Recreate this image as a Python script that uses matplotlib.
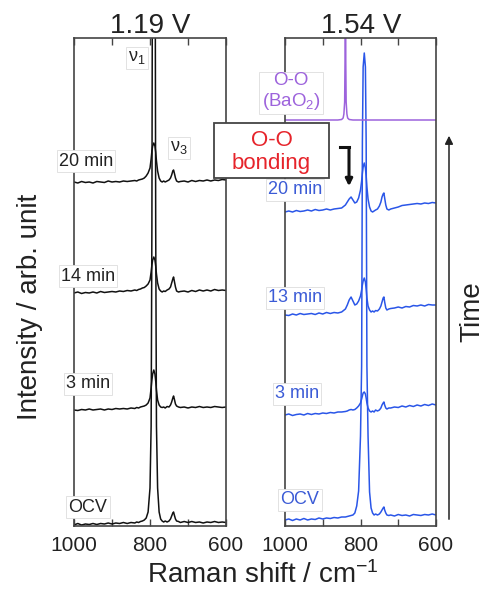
import matplotlib
matplotlib.use('Agg')
import matplotlib.pyplot as plt
from matplotlib.patches import Rectangle, FancyArrowPatch
from matplotlib.lines import Line2D
import numpy as np

plt.rcParams['font.family'] = ['Liberation Sans', 'DejaVu Sans']
plt.rcParams['mathtext.fontset'] = 'custom'
plt.rcParams['mathtext.rm'] = 'Liberation Sans'
plt.rcParams['mathtext.it'] = 'Liberation Sans:italic'
plt.rcParams['mathtext.bf'] = 'Liberation Sans:bold'

# ---------------- data ----------------
# Raman shift grid (cm-1)
shift = ([1000, 990, 980, 970, 960, 950, 940, 930, 920, 910, 900, 890, 880, 870, 860, 850]
         + [840, 835, 830, 825, 820, 815, 810, 805, 800]
         + [797, 795, 793, 790, 787, 785, 783, 780]
         + [776, 772, 768, 764, 760, 755, 750]
         + [746, 743, 740, 738, 736, 733, 730, 725]
         + [720, 710, 700, 690, 680, 670, 660, 650, 640, 630, 620, 610, 600])

# 1.19 V spectra (intensity above own offset, arb. unit)
left_labels = ["OCV", "3 min", "14 min", "20 min"]
left_offsets = [0, 114, 231, 342]
left_ocv = ([1, 2.5, 1, 2, 1.5, 2.5, 1.5, 2.5, 2, 3, 2, 3, 2.5, 3.5, 2.5, 3.5]
            + [3, 4, 3.5, 4.5, 5, 6, 8, 14, 38]
            + [100, 300, 700, 800, 700, 300, 100, 38]
            + [14, 7, 5, 4, 5, 4, 5]
            + [7, 10, 13, 14, 11, 7, 5, 4.5]
            + [3.5, 4.5, 3.5, 4.5, 3.5, 4, 3, 4, 3.5, 4.5, 3.5, 4, 3.5])
left_3min = ([2, 1.5, 2.5, 2, 3, 2, 2.5, 3, 2, 3, 2.5, 3.5, 3, 3.5, 3, 4]
             + [3.5, 4.5, 4, 5, 5.5, 6, 7, 9, 14]
             + [24, 32, 38, 42, 38, 31, 22, 12]
             + [7, 5, 4.5, 5, 4, 5.5, 5]
             + [7, 10, 14, 16, 13, 8, 6, 5]
             + [4.5, 5, 4, 5, 4.5, 5.5, 4.5, 5, 4.5, 5.5, 5, 4.5, 5])
left_14min = ([2, 3, 1.5, 2.5, 2, 3, 2, 3.5, 2.5, 3, 3.5, 3, 4, 3.5, 4.5, 4]
              + [5, 4.5, 5.5, 6, 7, 7.5, 9, 11, 15]
              + [23, 30, 35, 38, 35, 29, 21, 12]
              + [6, 4, 3, 4, 3.5, 5, 6]
              + [8, 12, 16, 18, 14, 8, 4, 3]
              + [3.5, 4, 3, 4.5, 3.5, 5, 4, 5, 4, 5.5, 4.5, 5, 4.5])
left_20min = ([2, 1, 2.5, 1.5, 2, 1, 2.5, 2, 1.5, 3, 2, 2.5, 2, 3, 2.5, 3]
              + [3.5, 3, 4, 4.5, 5, 6, 8, 11, 16]
              + [25, 33, 38, 41, 38, 32, 23, 13]
              + [6, 3, 2, 3, 2, 3, 4]
              + [6, 9, 13, 14, 11, 6, 3, 2]
              + [2.5, 3, 2, 3.5, 2.5, 3.5, 3, 4, 3, 4, 3.5, 4.5, 4])

# 1.54 V spectra
right_labels = ["OCV", "3 min", "13 min", "20 min"]
right_offsets = [4, 109, 209, 312]
right_ocv = ([2, 3, 1.5, 3, 2, 3.5, 2, 3, 2.5, 4, 3, 4, 3.5, 4.5, 4, 5]
             + [5, 5.5, 6, 6.5, 7, 9, 16, 31, 86]
             + [156, 380, 455, 469, 455, 380, 156, 86]
             + [30, 14, 9, 7, 8, 7, 8]
             + [10, 12, 14, 15, 12, 9, 7, 6.5]
             + [7, 6, 7.5, 6.5, 7, 6, 7.5, 7, 6.5, 7.5, 7, 8, 7])
right_3min = ([2, 3, 1.5, 2.5, 3, 2, 3.5, 2.5, 3.5, 3, 4, 3.5, 4.5, 4, 5, 5]
              + [5.5, 6, 7, 7.5, 7, 7.5, 9, 11, 14]
              + [18, 21, 24, 25, 23, 19, 14, 9]
              + [6, 5, 6, 5, 7, 6, 7]
              + [9, 12, 14, 15, 12, 9, 8, 9]
              + [9, 10, 9.5, 11, 10, 11.5, 10.5, 12, 11, 12.5, 11.5, 13, 12])
right_13min = ([2, 1.5, 3, 2, 3.5, 2.5, 3, 3.5, 2.5, 4, 3, 4.5, 3.5, 4.5, 4, 5]
               + [8, 12, 17, 20, 16, 12, 13, 16, 21]
               + [27, 32, 36, 39, 35, 28, 19, 11]
               + [7, 5, 6, 5, 6.5, 6, 8]
               + [11, 15, 19, 20, 15, 9, 7, 8]
               + [8.5, 9, 10, 9, 10.5, 10, 11.5, 11, 12, 11, 12.5, 12, 12])
right_20min = ([2, 3, 2, 3.5, 2.5, 3, 4, 3, 4.5, 3.5, 4, 5, 4, 5, 5.5, 6]
               + [9, 12, 15, 17, 14, 11, 12, 16, 24]
               + [33, 41, 47, 51, 46, 38, 27, 15]
               + [7, 3, 2, 3, 4, 5, 8]
               + [12, 17, 20, 21, 16, 9, 5, 4]
               + [5, 6, 7, 8.5, 9, 9.5, 10, 10.5, 10, 11, 10.5, 11.5, 11])

# BaO2 reference spectrum
bao2_shift = [1000, 960, 920, 880, 860, 850, 846, 844, 842, 841, 840,
              839, 838, 836, 834, 830, 820, 790, 750, 700, 650, 600]
bao2_int = [2, 2, 2, 2, 2, 2.5, 4, 8, 20, 60, 300,
            60, 20, 8, 4, 2.5, 2, 2, 2, 2, 2, 2]
bao2_offset = 404

tick_pos = [1000, 900, 800, 700, 600]
tick_lab = ["1000", "", "800", "", "600"]

left_spectra = [left_ocv, left_3min, left_14min, left_20min]
right_spectra = [right_ocv, right_3min, right_13min, right_20min]
for s in left_spectra + right_spectra:
    assert len(s) == len(shift)

# ---------------- figure ----------------
W, H = 484, 591
fig = plt.figure(figsize=(W / 100, H / 100), dpi=100)


def fx(p):
    return p / W


def fy(p):
    return 1 - p / H


axL = fig.add_axes([fx(74), fy(526), (226 - 74) / W, (526 - 38) / H])
axR = fig.add_axes([fx(285), fy(526), (436 - 285) / W, (526 - 38) / H])

for ax in (axL, axR):
    ax.set_xlim(1000, 600)
    ax.set_ylim(0, 488)
    ax.set_xticks(tick_pos)
    ax.set_xticklabels(tick_lab)
    ax.tick_params(axis='x', direction='in', top=True, bottom=True, length=5,
                   width=1.0, labelsize=15, pad=7, color='#444', labelcolor='#222')
    ax.set_yticks([])
    for s in ax.spines.values():
        s.set_color('#444')
        s.set_linewidth(1.2)

black = '#111111'
blue = '#2a56e8'
purple = '#9d63dc'

x = np.array(shift)
for off, sp in zip(left_offsets, left_spectra):
    axL.plot(x, np.array(sp) + off, color=black, lw=1.1)
for off, sp in zip(right_offsets, right_spectra):
    axR.plot(x, np.array(sp) + off, color=blue, lw=1.1)
axR.plot(bao2_shift, np.array(bao2_int) + bao2_offset, color=purple, lw=1.1)

# titles
fig.text(fx(150), fy(33), '1.19 V', ha='center', va='baseline', fontsize=20, color='#222')
fig.text(fx(361), fy(33), '1.54 V', ha='center', va='baseline', fontsize=20, color='#222')

# axis labels
fig.text(fx(263), fy(583), 'Raman shift / cm$^{\\mathregular{-1}}$', ha='center',
         va='baseline', fontsize=20, color='#222')
fig.text(fx(30), fy(307), 'Intensity / arb. unit', rotation=90, ha='center',
         va='center', fontsize=20, color='#222')
fig.text(fx(472), fy(312), 'Time', rotation=90, ha='center', va='center',
         fontsize=20, color='#222')
fig.add_artist(FancyArrowPatch((fx(449), fy(522)), (fx(449), fy(133)),
                               transform=fig.transFigure, arrowstyle='-|>',
                               mutation_scale=12, color='#222', lw=1.1))

box = dict(boxstyle='square,pad=0.12', fc='white', ec='#dddddd', lw=0.6)

left_label_pos = [(88, 507), (88, 384), (88, 276), (86, 161)]
for lab, (px, py) in zip(left_labels, left_label_pos):
    fig.text(fx(px), fy(py), lab, ha='center', va='center', fontsize=13,
             color='#222', bbox=box)

right_label_pos = [(300, 500), (297, 394), (295, 298), (295, 190)]
for lab, (px, py) in zip(right_labels, right_label_pos):
    fig.text(fx(px), fy(py), lab, ha='center', va='center', fontsize=13,
             color='#3b5bd6', bbox=box)

fig.text(fx(137), fy(58), 'ν$_1$', ha='center', va='center', fontsize=13,
         color='#222', bbox=box)
fig.text(fx(179), fy(148), 'ν$_3$', ha='center', va='center', fontsize=13,
         color='#222', bbox=box)

fig.text(fx(291), fy(92), 'O-O\n(BaO$_2$)', ha='center', va='center', fontsize=13.5,
         color=purple, linespacing=1.15, bbox=box)

# O-O bonding box
fig.add_artist(Rectangle((fx(214), fy(178)), (329 - 214) / W, (178 - 123) / H,
                         transform=fig.transFigure, fc='white', ec='#444', lw=1.3,
                         zorder=5))
fig.text(fx(271.5), fy(140), 'O-O', ha='center', va='center', fontsize=16,
         color='#e6242b', zorder=6)
fig.text(fx(271.5), fy(164), 'bonding', ha='center', va='center', fontsize=16,
         color='#e6242b', zorder=6)

fig.add_artist(Line2D([fx(340), fx(349)], [fy(147), fy(147)], color='#111',
                      lw=2.2, transform=fig.transFigure))
fig.add_artist(FancyArrowPatch((fx(349), fy(146)), (fx(349), fy(189)),
                               transform=fig.transFigure, arrowstyle='-|>',
                               mutation_scale=10, color='#111', lw=2.2))

fig.savefig('out.png', dpi=100)
